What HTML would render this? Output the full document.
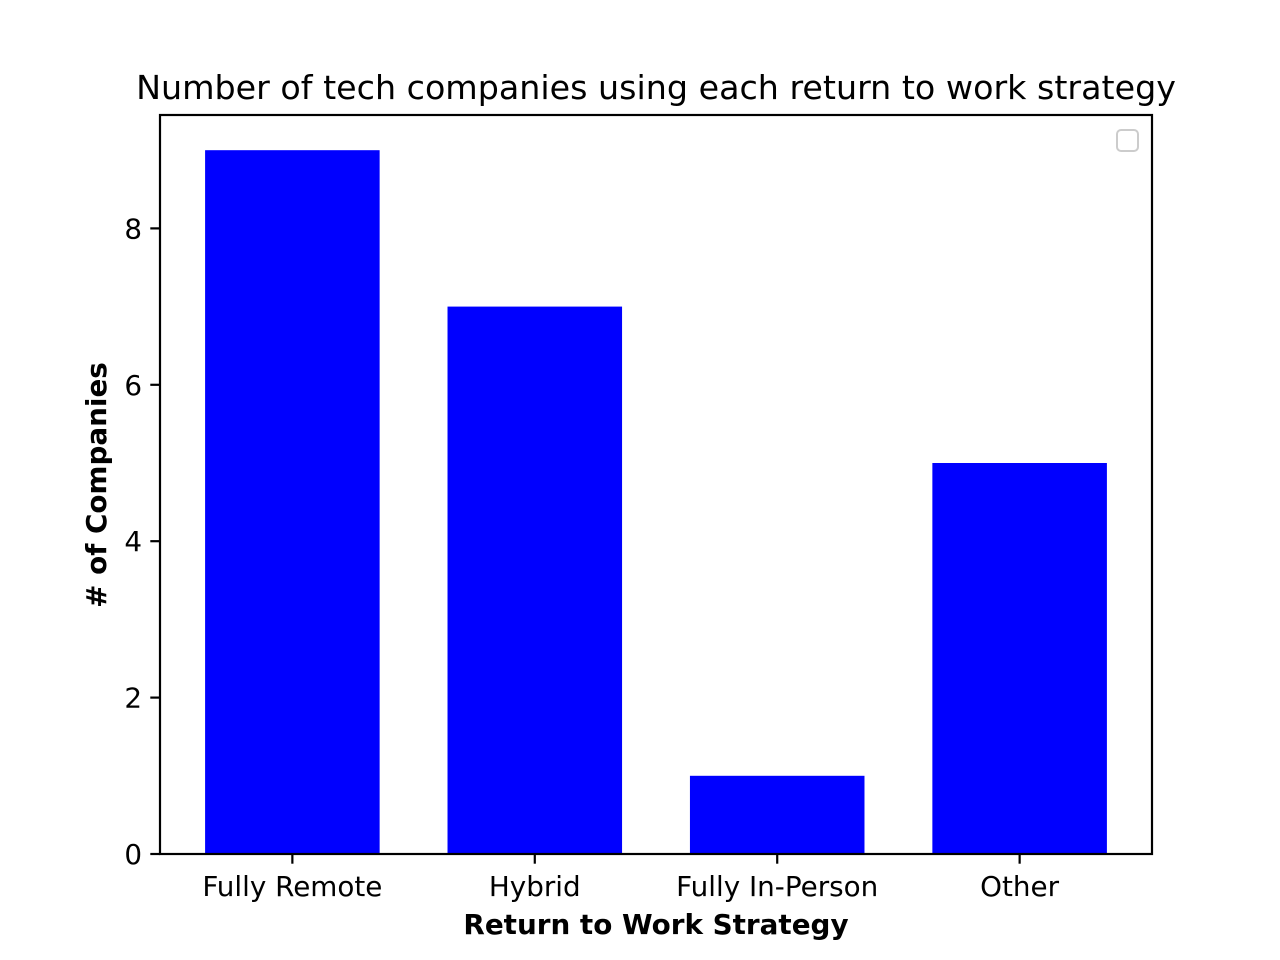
<!DOCTYPE html>
<html><head><meta charset="utf-8"><style>
html,body{margin:0;padding:0;background:#fff;}
svg{display:block;font-family:"DejaVu Sans","Liberation Sans",sans-serif;}
</style></head><body>
<svg id="chart" width="1280" height="960" viewBox="0 0 1280 960" xmlns="http://www.w3.org/2000/svg">
<rect width="1280" height="960" fill="#fff"/>
<text x="656" y="99" font-size="33.3" text-anchor="middle">Number of tech companies using each return to work strategy</text>
<g id="bars"></g>
<g id="axes"></g>
<rect x="1117" y="130" width="21" height="21" rx="4" fill="#fff" stroke="#ccc" stroke-width="2"/>
<text x="656" y="934" font-size="27.8" font-weight="bold" text-anchor="middle">Return to Work Strategy</text>
<text transform="translate(106,485) rotate(-90)" font-size="27.8" font-weight="bold" text-anchor="middle"># of Companies</text>
</svg>
<script>
const categories = ["Fully Remote", "Hybrid", "Fully In-Person", "Other"];
const values = [9, 7, 1, 5];
const yTicks = [0, 2, 4, 6, 8];

const L = 160, R = 1152, T = 115, B = 854;
const xMin = -0.546, xMax = categories.length - 1 + 0.546;
const yMax = Math.max(...values) * 1.05;
const xs = i => L + (i - xMin) / (xMax - xMin) * (R - L);
const ys = v => B - v / yMax * (B - T);
const NS = "http://www.w3.org/2000/svg";
const bars = document.getElementById('bars');
const axes = document.getElementById('axes');
function mk(tag, attrs, parent, txt) {
  const e = document.createElementNS(NS, tag);
  for (const k in attrs) e.setAttribute(k, attrs[k]);
  if (txt !== undefined) e.textContent = txt;
  parent.appendChild(e);
  return e;
}
const bw = 0.72;
values.forEach((v, i) => {
  const x0 = xs(i - bw / 2), x1 = xs(i + bw / 2);
  const r = mk('rect', {x: x0, y: ys(v), width: x1 - x0, height: ys(0) - ys(v), fill: '#0000ff'}, bars);
  
  
  const t = mk('line', {x1: xs(i), x2: xs(i), y1: B, y2: B + 9.7, stroke: '#000', 'stroke-width': 2.2}, axes);
  
  
  const lb = mk('text', {x: xs(i), y: B + 42, 'font-size': 27.8, 'text-anchor': 'middle'}, axes, categories[i]);
  
  
});
yTicks.forEach(v => {
  const t = mk('line', {x1: L - 9.7, x2: L, y1: ys(v), y2: ys(v), stroke: '#000', 'stroke-width': 2.2}, axes);
  
  
  const lb = mk('text', {x: L - 18, y: ys(v) + 10, 'font-size': 27.8, 'text-anchor': 'end'}, axes, String(v));
  
  
});
const frame = mk('rect', {x: L, y: T, width: R - L, height: B - T, fill: 'none', stroke: '#000', 'stroke-width': 2.2}, axes);


</script>
</body></html>
